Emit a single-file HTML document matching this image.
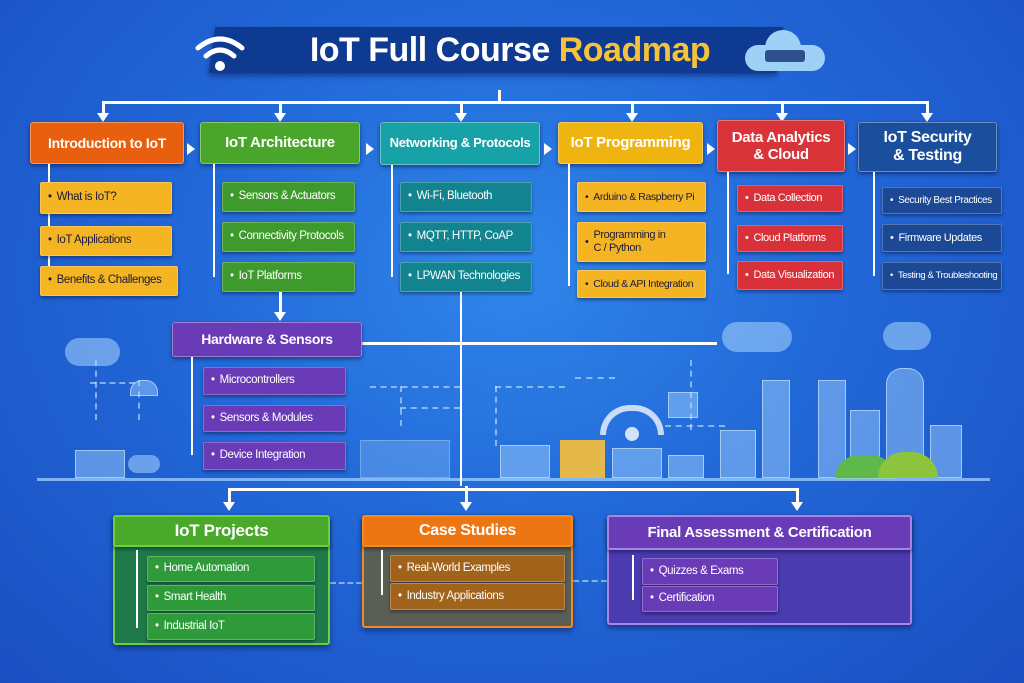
<!DOCTYPE html>
<html><head><meta charset="utf-8"><style>
*{margin:0;padding:0;box-sizing:border-box}
body{width:1024px;height:683px;overflow:hidden;position:relative;font-family:"Liberation Sans",sans-serif;
background:radial-gradient(ellipse at 50% 40%,#2f86ea 0%,#2268d8 45%,#1a4fc2 100%);}
.a{position:absolute}
.b{position:absolute;color:#fff;font-weight:bold;display:flex;align-items:center;justify-content:center;text-align:center;border-radius:3px;box-shadow:0 2px 4px rgba(0,0,30,.45);border:1px solid rgba(255,255,255,.35);line-height:1.15;letter-spacing:-0.3px}
.s{position:absolute;color:#fff;font-size:11.5px;display:flex;align-items:center;padding-left:7px;border-radius:2px;box-shadow:0 2px 3px rgba(0,0,30,.4);border:1px solid rgba(255,255,255,.25);line-height:1.15;white-space:nowrap;letter-spacing:-0.4px;overflow:hidden}
.s:before{content:"•";margin-right:5px}
.y{background:#f5b522;color:#1a1a40}
.g{background:#3f9a2c}.t{background:#12848f}.r{background:#d8313a}.d{background:#1c4996}.p{background:#6a3bb6}
.l{position:absolute;background:#fff}
.ar{position:absolute;width:0;height:0;border-left:6px solid transparent;border-right:6px solid transparent;border-top:9px solid #fff}
.ar2{position:absolute;width:0;height:0;border-top:6px solid transparent;border-bottom:6px solid transparent;border-left:8px solid #fff}
.bl{position:absolute;background:rgba(170,215,255,.45);border:1px solid rgba(210,235,255,.6)}
.dl{position:absolute;border-top:2px dashed rgba(200,230,255,.6)}
.dv{position:absolute;border-left:2px dashed rgba(200,230,255,.6)}
</style></head><body>
<!-- title -->
<div class="a" style="left:212px;top:27px;width:568px;height:46px;background:#0e3a92;transform:skewX(-8deg);box-shadow:0 3px 6px rgba(0,0,40,.4)"></div>
<div class="a" style="left:250px;top:28px;width:520px;height:44px;color:#fff;font-weight:bold;font-size:34px;display:flex;align-items:center;justify-content:center;letter-spacing:-0.5px">IoT Full Course&nbsp;<span style="color:#f7c23b">Roadmap</span></div>
<svg class="a" style="left:192px;top:30px" width="56" height="44" viewBox="0 0 56 44"><g fill="none" stroke="#fff" stroke-width="5" stroke-linecap="round"><path d="M6 18 Q28 0 50 18"/><path d="M14 26 Q28 14 42 26"/></g><circle cx="28" cy="36" r="5" fill="#fff"/></svg>
<div class="a" style="left:745px;top:45px;width:80px;height:26px;background:#9fd0f5;border-radius:13px"></div>
<div class="a" style="left:765px;top:30px;width:36px;height:36px;background:#9fd0f5;border-radius:50%"></div>
<div class="a" style="left:765px;top:50px;width:40px;height:12px;background:#2d4f8c;border-radius:3px"></div>

<!-- top connectors -->
<div class="l" style="left:103px;top:101px;width:825px;height:3px"></div>
<div class="l" style="left:498px;top:90px;width:3px;height:12px"></div>
<div class="l" style="left:102px;top:101px;width:3px;height:14px"></div><div class="ar" style="left:97px;top:113px"></div>
<div class="l" style="left:279px;top:101px;width:3px;height:14px"></div><div class="ar" style="left:274px;top:113px"></div>
<div class="l" style="left:460px;top:101px;width:3px;height:14px"></div><div class="ar" style="left:455px;top:113px"></div>
<div class="l" style="left:631px;top:101px;width:3px;height:14px"></div><div class="ar" style="left:626px;top:113px"></div>
<div class="l" style="left:781px;top:101px;width:3px;height:14px"></div><div class="ar" style="left:776px;top:113px"></div>
<div class="l" style="left:926px;top:101px;width:3px;height:14px"></div><div class="ar" style="left:921px;top:113px"></div>
<div class="ar2" style="left:187px;top:143px"></div><div class="ar2" style="left:366px;top:143px"></div><div class="ar2" style="left:544px;top:143px"></div><div class="ar2" style="left:707px;top:143px"></div><div class="ar2" style="left:848px;top:143px"></div>

<!-- main boxes -->
<div class="b" style="left:30px;top:122px;width:154px;height:42px;background:#e8600f;font-size:14px">Introduction to IoT</div>
<div class="b" style="left:200px;top:122px;width:160px;height:42px;background:#4aa62a;font-size:15px">IoT Architecture</div>
<div class="b" style="left:380px;top:122px;width:160px;height:43px;background:#17a2a8;font-size:13px">Networking &amp; Protocols</div>
<div class="b" style="left:558px;top:122px;width:145px;height:42px;background:#f0b410;font-size:15px">IoT Programming</div>
<div class="b" style="left:717px;top:120px;width:128px;height:52px;background:#d9333a;font-size:15px">Data Analytics<br>&amp; Cloud</div>
<div class="b" style="left:858px;top:122px;width:139px;height:50px;background:#1b4f9e;font-size:16px">IoT Security<br>&amp; Testing</div>

<!-- sub connectors -->
<div class="l" style="left:48px;top:164px;width:2px;height:120px"></div>
<div class="l" style="left:213px;top:164px;width:2px;height:113px"></div>
<div class="l" style="left:391px;top:165px;width:2px;height:112px"></div>
<div class="l" style="left:568px;top:164px;width:2px;height:122px"></div>
<div class="l" style="left:727px;top:172px;width:2px;height:102px"></div>
<div class="l" style="left:873px;top:172px;width:2px;height:104px"></div>

<div class="s y" style="left:40px;top:182px;width:132px;height:32px">What is IoT?</div>
<div class="s y" style="left:40px;top:226px;width:132px;height:30px">IoT Applications</div>
<div class="s y" style="left:40px;top:266px;width:138px;height:30px">Benefits &amp; Challenges</div>
<div class="s g" style="left:222px;top:182px;width:133px;height:30px">Sensors &amp; Actuators</div>
<div class="s g" style="left:222px;top:222px;width:133px;height:30px">Connectivity Protocols</div>
<div class="s g" style="left:222px;top:262px;width:133px;height:30px">IoT Platforms</div>
<div class="s t" style="left:400px;top:182px;width:132px;height:30px">Wi-Fi, Bluetooth</div>
<div class="s t" style="left:400px;top:222px;width:132px;height:30px">MQTT, HTTP, CoAP</div>
<div class="s t" style="left:400px;top:262px;width:132px;height:30px">LPWAN Technologies</div>
<div class="s y" style="left:577px;top:182px;width:129px;height:30px;font-size:10.5px">Arduino &amp; Raspberry Pi</div>
<div class="s y" style="left:577px;top:222px;width:129px;height:40px;font-size:11px;white-space:normal">Programming in<br>C / Python</div>
<div class="s y" style="left:577px;top:270px;width:129px;height:28px;font-size:10.5px">Cloud &amp; API Integration</div>
<div class="s r" style="left:737px;top:185px;width:106px;height:27px;font-size:11px">Data Collection</div>
<div class="s r" style="left:737px;top:225px;width:106px;height:27px;font-size:11px">Cloud Platforms</div>
<div class="s r" style="left:737px;top:261px;width:106px;height:29px;font-size:11px">Data Visualization</div>
<div class="s d" style="left:882px;top:187px;width:120px;height:27px;font-size:10px">Security Best Practices</div>
<div class="s d" style="left:882px;top:224px;width:120px;height:28px;font-size:11px">Firmware Updates</div>
<div class="s d" style="left:882px;top:262px;width:120px;height:28px;font-size:9.5px">Testing &amp; Troubleshooting</div>

<!-- city decoration -->
<div class="dl" style="left:370px;top:386px;width:90px"></div>
<div class="dv" style="left:400px;top:386px;height:40px"></div>
<div class="dl" style="left:400px;top:407px;width:60px"></div>
<div class="dl" style="left:495px;top:386px;width:70px"></div>
<div class="dv" style="left:495px;top:386px;height:60px"></div>
<div class="dl" style="left:575px;top:377px;width:40px"></div>
<div class="dl" style="left:665px;top:425px;width:60px"></div>
<div class="dv" style="left:690px;top:360px;height:70px"></div>
<div class="dl" style="left:90px;top:382px;width:45px"></div>
<div class="dv" style="left:95px;top:360px;height:60px"></div>
<div class="dv" style="left:138px;top:380px;height:40px"></div>
<div class="bl" style="left:130px;top:380px;width:28px;height:16px;border-radius:12px 12px 0 0"></div>
<div class="a" style="left:600px;top:405px;width:64px;height:30px;border:6px solid rgba(255,255,255,.75);border-bottom:none;border-radius:32px 32px 0 0"></div>
<div class="a" style="left:625px;top:427px;width:14px;height:14px;background:rgba(255,255,255,.8);border-radius:50%"></div>
<div class="bl" style="left:762px;top:380px;width:28px;height:98px"></div>
<div class="bl" style="left:818px;top:380px;width:28px;height:98px"></div>
<div class="bl" style="left:850px;top:410px;width:30px;height:68px"></div>
<div class="bl" style="left:886px;top:368px;width:38px;height:110px;border-radius:16px 16px 0 0"></div>
<div class="bl" style="left:930px;top:425px;width:32px;height:53px"></div>
<div class="bl" style="left:720px;top:430px;width:36px;height:48px"></div>
<div class="bl" style="left:668px;top:392px;width:30px;height:26px"></div>
<div class="bl" style="left:500px;top:445px;width:50px;height:33px"></div>
<div class="a" style="left:560px;top:440px;width:45px;height:38px;background:#e5b84a"></div>
<div class="bl" style="left:612px;top:448px;width:50px;height:30px"></div>
<div class="bl" style="left:668px;top:455px;width:36px;height:23px"></div>
<div class="bl" style="left:75px;top:450px;width:50px;height:28px"></div>
<div class="bl" style="left:360px;top:440px;width:90px;height:38px;opacity:.6"></div>
<div class="a" style="left:835px;top:455px;width:60px;height:24px;background:#5fb84a;border-radius:30px 30px 0 0"></div>
<div class="a" style="left:878px;top:452px;width:60px;height:26px;background:#8cc43e;border-radius:30px 30px 0 0"></div>
<div class="a" style="left:65px;top:338px;width:55px;height:28px;background:rgba(170,215,255,.55);border-radius:14px"></div>
<div class="a" style="left:128px;top:455px;width:32px;height:18px;background:rgba(170,215,255,.55);border-radius:9px"></div>
<div class="a" style="left:722px;top:322px;width:70px;height:30px;background:rgba(170,215,255,.55);border-radius:15px"></div>
<div class="a" style="left:883px;top:322px;width:48px;height:28px;background:rgba(170,215,255,.55);border-radius:14px"></div>
<div class="a" style="left:37px;top:478px;width:953px;height:3px;background:rgba(170,215,255,.7)"></div>

<!-- hardware -->
<div class="l" style="left:279px;top:292px;width:3px;height:22px"></div><div class="ar" style="left:274px;top:312px"></div>
<div class="l" style="left:460px;top:292px;width:2px;height:194px"></div>
<div class="l" style="left:362px;top:342px;width:355px;height:3px"></div>
<div class="b p" style="left:172px;top:322px;width:190px;height:35px;font-size:14px">Hardware &amp; Sensors</div>
<div class="l" style="left:191px;top:357px;width:2px;height:98px"></div>
<div class="s p" style="left:203px;top:367px;width:143px;height:28px">Microcontrollers</div>
<div class="s p" style="left:203px;top:405px;width:143px;height:27px">Sensors &amp; Modules</div>
<div class="s p" style="left:203px;top:442px;width:143px;height:28px">Device Integration</div>

<!-- bottom connectors -->
<div class="l" style="left:229px;top:488px;width:570px;height:3px"></div>
<div class="l" style="left:228px;top:488px;width:3px;height:16px"></div><div class="ar" style="left:223px;top:502px"></div>
<div class="l" style="left:465px;top:486px;width:3px;height:18px"></div><div class="ar" style="left:460px;top:502px"></div>
<div class="l" style="left:796px;top:488px;width:3px;height:16px"></div><div class="ar" style="left:791px;top:502px"></div>
<div class="dl" style="left:330px;top:582px;width:32px"></div>
<div class="dl" style="left:573px;top:580px;width:34px"></div>

<!-- bottom boxes -->
<div class="a" style="left:113px;top:515px;width:217px;height:130px;background:#1f7a4a;border:2px solid #6bd13a;border-radius:3px;box-shadow:0 3px 6px rgba(0,0,30,.4)"></div>
<div class="b" style="left:113px;top:515px;width:217px;height:32px;background:#4aa82a;font-size:17px;border:2px solid #6bd13a">IoT Projects</div>
<div class="l" style="left:136px;top:550px;width:2px;height:78px"></div>
<div class="s" style="left:147px;top:556px;width:168px;height:26px;background:#2f9a3a">Home Automation</div>
<div class="s" style="left:147px;top:585px;width:168px;height:26px;background:#2f9a3a">Smart Health</div>
<div class="s" style="left:147px;top:613px;width:168px;height:27px;background:#2f9a3a">Industrial IoT</div>

<div class="a" style="left:362px;top:515px;width:211px;height:113px;background:#5a5f55;border:2px solid #f28a1c;border-radius:3px;box-shadow:0 3px 6px rgba(0,0,30,.4)"></div>
<div class="b" style="left:362px;top:515px;width:211px;height:32px;background:#ee7612;font-size:16px;border:2px solid #f28a1c">Case Studies</div>
<div class="l" style="left:381px;top:550px;width:2px;height:45px"></div>
<div class="s" style="left:390px;top:555px;width:175px;height:27px;background:#a1621a">Real-World Examples</div>
<div class="s" style="left:390px;top:583px;width:175px;height:27px;background:#a1621a">Industry Applications</div>

<div class="a" style="left:607px;top:515px;width:305px;height:110px;background:#4a3bb0;border:2px solid #a784e6;border-radius:3px;box-shadow:0 3px 6px rgba(0,0,30,.4)"></div>
<div class="b" style="left:607px;top:515px;width:305px;height:35px;background:#6a3bb6;font-size:15px;border:2px solid #a784e6">Final Assessment &amp; Certification</div>
<div class="l" style="left:632px;top:555px;width:2px;height:45px"></div>
<div class="s p" style="left:642px;top:558px;width:136px;height:27px">Quizzes &amp; Exams</div>
<div class="s p" style="left:642px;top:586px;width:136px;height:26px">Certification</div>
</body></html>
